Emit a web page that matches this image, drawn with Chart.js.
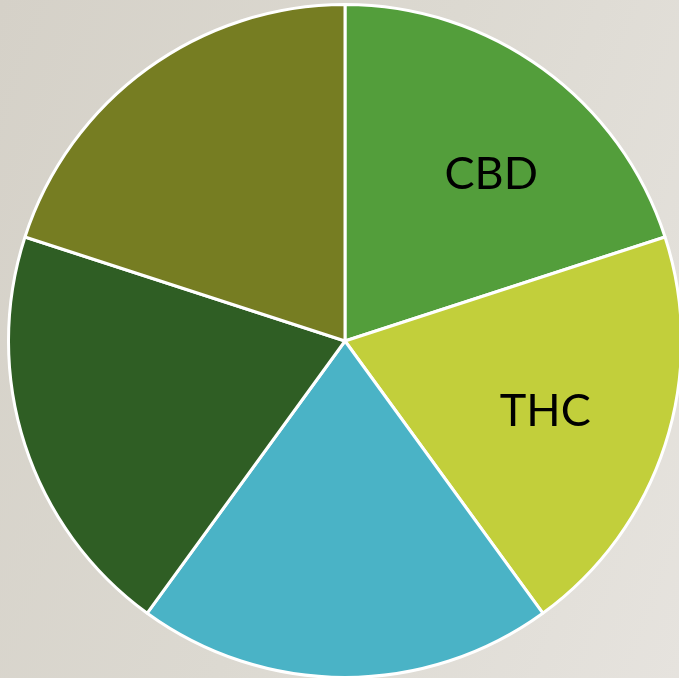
<!DOCTYPE html>
<html lang="en">
<head>
    <meta charset="utf-8">
    <title>CBD / THC</title>
<script src="https://cdn.jsdelivr.net/npm/chart.js@4/dist/chart.umd.min.js"></script>
<style>
  html, body { margin: 0; padding: 0; overflow: hidden; }
  body {
    width: 679px; height: 678px;
    background: linear-gradient(110deg, #d5d1c8 0%, #dcd9d1 50%, #e6e3de 100%);
    position: relative;
  }
  #wrap { position: absolute; left: 0; top: 0; width: 690px; height: 680px; }
</style>
</head>
<body>
<div id="wrap"><canvas id="mycanvas"></canvas></div>

<script>
// slice names (only two are labelled on the picture)
var labels = ['CBD', 'THC', '', '', ''];
var values = [20, 20, 20, 20, 20];
var colors = ['#539e3b', '#c2cf3b', '#4ab3c6', '#2f5e24', '#767d22'];

// draws the slice names in black inside the slices
var sliceText = {
  id: 'sliceText',
  afterDatasetsDraw: function(chart) {
    var ctx = chart.ctx;
    var meta = chart.getDatasetMeta(0);
    ctx.save();
    ctx.font = '45px "Lato", "Open Sans", sans-serif';
    ctx.fillStyle = '#000';
    ctx.textAlign = 'center';
    ctx.textBaseline = 'middle';
    meta.data.forEach(function(arc, i) {
      if (!labels[i]) return;
      var p = arc.getProps(['x', 'y', 'startAngle', 'endAngle', 'outerRadius']);
      var mid = (p.startAngle + p.endAngle) / 2 + (i === 0 ? 0.09 : 0.02);
      var r = p.outerRadius * (i === 0 ? 0.66 : 0.63);
      ctx.fillText(labels[i], p.x + Math.cos(mid) * r, p.y + Math.sin(mid) * r + 1);
    });
    ctx.restore();
  }
};

var ctx = document.getElementById('mycanvas');
var pie = new Chart(ctx, {
  type: 'pie',
  data: {
    labels: labels,
    datasets: [{
      data: values,
      backgroundColor: colors,
      borderColor: '#ffffff',
      borderWidth: 3
    }]
  },
  options: {
    responsive: true,
    maintainAspectRatio: false,
    animation: false,
    layout: { padding: { top: 3, bottom: 1, left: 0, right: 0 } },
    plugins: {
      legend: { display: false },
      tooltip: { enabled: false }
    }
  },
  plugins: [sliceText]
});
</script>
</body>
</html>
